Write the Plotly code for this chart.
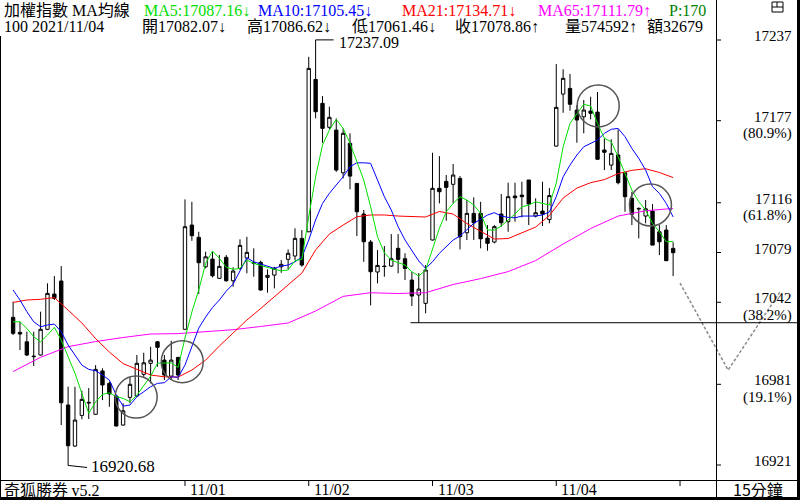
import plotly.graph_objects as go

# ---------------- data (15-minute bars, TAIEX) ----------------
opens = [17030.8, 17019.6, 17012.6, 17002.0, 17002.8, 17021.9, 17048.1, 17057.8, 16965.6, 16935.1,
         16957.9, 16967.6, 16958.7, 16990.9, 16981.7, 16972.3, 16950.7, 16971.3, 16972.3, 16988.4,
         16996.6, 17012.6, 16999.0, 16987.1, 17001.0, 17021.9, 17099.4, 17090.3, 17068.4, 17074.1,
         17059.8, 17075.4, 17058.0, 17067.2, 17074.9, 17070.9, 17071.7, 17060.5, 17062.2, 17068.4,
         17073.9, 17076.4, 17089.5, 17094.4, 17207.7, 17189.9, 17172.1, 17170.0, 17138.3, 17160.2,
         17130.4, 17107.6, 17086.8, 17064.5, 17068.9, 17068.9, 17082.1, 17074.4, 17058.5, 17047.4,
         17041.2, 17088.3, 17126.7, 17131.9, 17129.7, 17134.1, 17093.7, 17108.1, 17108.1, 17089.7,
         17086.8, 17107.6, 17101.9, 17121.0, 17121.7, 17132.9, 17106.1, 17109.8, 17103.5, 17158.1,
         17196.8, 17201.0, 17184.9, 17179.9, 17184.2, 17183.4, 17155.2, 17144.0, 17151.5, 17138.3,
         17119.3, 17111.8, 17106.1, 17109.8, 17094.4, 17095.7, 17082.07]
highs = [17042.4, 17027.5, 17020.1, 17020.1, 17035.0, 17056.1, 17061.5, 17068.9, 16979.2, 16979.2,
         16976.2, 16978.2, 16995.3, 16992.9, 16982.9, 16973.0, 16966.9, 16986.6, 17002.8, 17004.5,
         17008.9, 17013.2, 17002.8, 17013.4, 17001.4, 17118.5, 17116.7, 17094.4, 17079.6, 17079.6,
         17077.1, 17077.1, 17068.0, 17088.8, 17090.7, 17082.1, 17072.9, 17066.5, 17068.4, 17073.4,
         17081.3, 17097.0, 17095.7, 17224.5, 17237.09, 17195.3, 17187.4, 17178.7, 17171.3, 17167.6,
         17130.6, 17110.6, 17088.3, 17080.8, 17083.8, 17092.7, 17092.7, 17078.4, 17064.5, 17063.7,
         17069.7, 17153.2, 17150.7, 17136.6, 17144.8, 17135.8, 17118.0, 17120.0, 17116.7, 17099.4,
         17099.4, 17122.5, 17130.9, 17130.9, 17131.6, 17132.9, 17119.3, 17131.6, 17126.9, 17219.1,
         17215.2, 17211.7, 17188.6, 17192.4, 17194.8, 17198.3, 17163.9, 17163.1, 17170.6, 17138.3,
         17124.2, 17112.5, 17118.0, 17115.0, 17099.4, 17099.4, 17086.62]
lows = [17017.6, 17006.5, 17002.0, 16994.6, 17002.4, 17021.3, 17043.7, 16950.7, 16920.68, 16934.4,
        16955.0, 16955.2, 16958.5, 16969.3, 16964.3, 16949.6, 16950.3, 16966.9, 16971.9, 16986.6,
        16981.7, 16994.1, 16984.2, 16984.2, 16984.2, 17021.3, 17087.7, 17048.1, 17067.2, 17060.5,
        17059.6, 17057.3, 17053.5, 17066.0, 17063.5, 17061.0, 17050.7, 17049.1, 17052.3, 17063.9,
        17066.5, 17073.4, 17068.4, 17094.2, 17178.7, 17160.6, 17170.6, 17139.0, 17134.1, 17126.0,
        17091.2, 17072.1, 17039.7, 17056.1, 17061.0, 17068.4, 17063.5, 17058.5, 17039.2, 17026.8,
        17033.8, 17087.9, 17115.5, 17102.6, 17115.5, 17081.3, 17088.3, 17088.3, 17082.1, 17080.3,
        17085.8, 17098.2, 17094.4, 17101.9, 17105.1, 17099.4, 17105.1, 17098.7, 17100.7, 17157.8,
        17182.9, 17184.4, 17160.6, 17167.6, 17178.0, 17148.1, 17140.3, 17140.3, 17129.7, 17109.3,
        17099.4, 17089.5, 17100.7, 17084.5, 17077.1, 17072.9, 17061.46]
closes = [17018.9, 17018.4, 17002.8, 17001.6, 17021.9, 17048.6, 17044.9, 16967.3, 16935.3, 16954.4,
          16969.8, 16967.2, 16992.1, 16980.5, 16973.8, 16950.0, 16961.3, 16981.0, 16996.6, 16997.0,
          16999.0, 17008.5, 16987.9, 16999.0, 16987.9, 17098.2, 17091.5, 17071.4, 17075.8, 17061.7,
          17068.7, 17058.0, 17065.2, 17084.3, 17079.1, 17071.2, 17051.1, 17062.0, 17067.2, 17070.2,
          17078.4, 17089.5, 17069.7, 17215.9, 17183.7, 17171.3, 17179.5, 17140.3, 17167.6, 17135.8,
          17109.3, 17087.0, 17064.7, 17069.4, 17068.6, 17074.4, 17073.9, 17067.2, 17046.6, 17051.8,
          17066.0, 17126.7, 17124.2, 17127.4, 17136.6, 17090.7, 17108.1, 17101.1, 17089.2, 17085.8,
          17098.2, 17101.1, 17120.5, 17119.7, 17120.5, 17115.0, 17108.6, 17107.6, 17121.3, 17186.9,
          17208.5, 17189.2, 17177.5, 17184.9, 17182.5, 17148.3, 17153.5, 17152.7, 17130.9, 17120.5,
          17107.4, 17111.5, 17111.5, 17084.5, 17087.0, 17072.9, 17078.86]

ma5 = [17027.5, 17027.5, 17022.6, 17016.4, 17012.6, 17017.6, 17023.4, 17013.9, 17001.5, 16989.2,
       16974.3, 16959.4, 16968.0, 16973.5, 16974.7, 16971.8, 16970.6, 16968.0, 16973.0, 16980.5,
       16987.1, 16996.6, 16997.0, 16997.0, 16993.6, 17015.4, 17034.7, 17051.1, 17070.9, 17080.1,
       17074.7, 17068.0, 17066.5, 17067.2, 17073.4, 17070.9, 17069.4, 17067.7, 17066.5, 17065.4,
       17066.0, 17073.0, 17073.9, 17105.6, 17135.3, 17158.9, 17170.0, 17178.0, 17171.3, 17160.2,
       17146.5, 17132.9, 17113.0, 17090.7, 17078.8, 17073.4, 17071.4, 17069.7, 17064.7, 17061.5,
       17066.0, 17080.8, 17097.0, 17109.3, 17115.5, 17120.5, 17118.0, 17114.3, 17108.1, 17095.7,
       17095.7, 17098.7, 17103.1, 17107.6, 17113.0, 17114.3, 17116.7, 17115.5, 17114.3, 17130.6,
       17157.6, 17175.0, 17182.5, 17189.2, 17187.9, 17175.0, 17163.9, 17161.4, 17150.2, 17137.9,
       17125.4, 17116.7, 17110.6, 17100.7, 17094.4, 17087.0, 17087.16]
ma10 = [17051.1, 17043.7, 17035.0, 17027.5, 17023.8, 17025.1, 17025.8, 17020.1, 17010.2, 17002.8,
        16995.3, 16992.1, 16991.1, 16987.9, 16984.2, 16973.0, 16964.8, 16965.6, 16971.8, 16975.5,
        16979.2, 16981.7, 16982.2, 16986.6, 16986.2, 16995.3, 17008.7, 17022.8, 17031.0, 17038.1,
        17043.7, 17050.3, 17055.5, 17064.8, 17075.1, 17072.1, 17070.4, 17068.4, 17067.2, 17068.9,
        17069.7, 17072.1, 17075.6, 17088.3, 17103.2, 17115.5, 17123.0, 17129.2, 17135.3, 17142.8,
        17145.7, 17145.7, 17145.3, 17132.9, 17120.5, 17110.6, 17098.2, 17088.3, 17080.9, 17072.7,
        17067.2, 17072.1, 17078.4, 17083.3, 17088.3, 17091.2, 17095.7, 17100.7, 17103.7, 17106.9,
        17108.6, 17106.1, 17105.1, 17104.8, 17106.1, 17106.1, 17106.1, 17106.9, 17109.1, 17120.5,
        17135.3, 17144.0, 17151.5, 17157.6, 17160.2, 17162.6, 17167.6, 17170.6, 17171.3, 17165.1,
        17156.4, 17149.0, 17140.3, 17127.9, 17123.0, 17115.5, 17105.45]
ma21_bars = list(range(0, 97, 2))
ma21 = [17041.9, 17043.7, 17044.2, 17045.5, 17036.2, 17026.6, 17015.0, 17005.0, 16996.4, 16992.4,
        16987.9, 16986.6, 16986.4, 16991.6, 16999.0, 17009.5, 17019.1, 17028.8, 17037.3, 17046.3,
        17054.8, 17063.7, 17080.9, 17092.7, 17099.4, 17105.6, 17106.9, 17106.9, 17106.1, 17105.7,
        17105.4, 17109.5, 17107.6, 17100.5, 17094.6, 17089.0, 17089.4, 17093.5, 17097.9, 17106.5,
        17119.5, 17126.9, 17130.9, 17133.2, 17137.7, 17140.1, 17141.3, 17138.5, 17134.71]
ma65_bars = list(range(0, 97, 4))
ma65 = [16990.5, 17001.1, 17009.0, 17012.8, 17015.8, 17018.4, 17018.7, 17020.1, 17021.6, 17024.0,
        17026.6, 17035.5, 17046.4, 17049.1, 17048.5, 17049.1, 17055.2, 17059.6, 17064.8, 17073.0,
        17085.3, 17096.8, 17106.1, 17110.0, 17111.79]

date_tick_bars = [25, 43, 61, 79, 97]
date_tick_labels = ["11/01", "11/02", "11/03", "11/04", ""]

axis_levels = [17237, 17177, 17116, 17079, 17042, 16981, 16921]
axis_pct = ["", "(80.9%)", "(61.8%)", "", "(38.2%)", "(19.1%)", ""]

# forecast (dashed) path and support line
proj_bars = [97, 104, 111.5]
proj_vals = [17056.3, 16991.6, 17049.4]
support_start_bar = 57.8
support_val = 17026.8

# highlight circles (bar, price)
circle_bars = [17.9, 24.6, 85.1, 92.7]
circle_vals = [16971.5, 16997.8, 17188.0, 17114.3]

# ---------------- figure ----------------
W, H = 800, 500
X_MIN, X_MAX = -1.9055, 114.451
Y_MIN, Y_MAX = 16894.99, 17266.74
SERIF = "Liberation Serif, Noto Sans CJK TC"
CJK = "Noto Sans CJK TC, Liberation Serif"


def pxx(p):
    return p / W


def pxy(p):
    return 1 - p / H


bars = list(range(len(opens)))
fig = go.Figure()
fig.add_trace(go.Candlestick(
    x=bars, open=opens, high=highs, low=lows, close=closes,
    increasing=dict(line=dict(color="black", width=1), fillcolor="white"),
    decreasing=dict(line=dict(color="black", width=1), fillcolor="black"),
    whiskerwidth=0, showlegend=False))

for xs, ys, col in [(ma65_bars, ma65, "#ff00ff"), (ma21_bars, ma21, "#ff0000"),
                    (bars, ma10, "#0000ff"), (bars, ma5, "#00e000")]:
    fig.add_trace(go.Scatter(x=xs, y=ys, mode="lines", line=dict(color=col, width=1),
                             showlegend=False, hoverinfo="skip"))

fig.add_trace(go.Scatter(x=proj_bars, y=proj_vals, mode="lines",
                         line=dict(color="#8a8a8a", width=1.5, dash="3px,2px"),
                         showlegend=False, hoverinfo="skip"))

shapes = []
shapes.append(dict(type="line", xref="x", yref="y", x0=support_start_bar, x1=X_MAX,
                   y0=support_val, y1=support_val, line=dict(color="black", width=1)))
for cb, cv in zip(circle_bars, circle_vals):
    shapes.append(dict(type="circle", xref="x", yref="y", xsizemode="pixel", ysizemode="pixel",
                       xanchor=cb, yanchor=cv, x0=-21, x1=21, y0=-21, y1=21,
                       line=dict(color="#555555", width=1.5)))
hi_i = highs.index(max(highs))
lo_i = lows.index(min(lows))
shapes.append(dict(type="line", xref="x", yref="y", xsizemode="pixel", xanchor=hi_i,
                   x0=0, x1=18, y0=highs[hi_i], y1=highs[hi_i], line=dict(color="black", width=1)))
shapes.append(dict(type="line", xref="x", yref="y", xsizemode="pixel", xanchor=lo_i,
                   x0=0, x1=19, y0=lows[lo_i], y1=lows[lo_i] - 1.5, line=dict(color="black", width=1)))
shapes += [
    dict(type="line", xref="paper", yref="paper", x0=pxx(716.5), x1=pxx(716.5), y0=0, y1=1,
         line=dict(color="black", width=1)),
    dict(type="line", xref="paper", yref="paper", x0=0, x1=1, y0=pxy(480.5), y1=pxy(480.5),
         line=dict(color="black", width=1)),
    dict(type="line", xref="paper", yref="paper", x0=pxx(0.5), x1=pxx(0.5), y0=0, y1=pxy(36),
         line=dict(color="black", width=1)),
    dict(type="rect", xref="paper", yref="paper", x0=pxx(797), x1=1, y0=0, y1=1,
         fillcolor="black", line=dict(width=0)),
    dict(type="rect", xref="paper", yref="paper", x0=0, x1=1, y0=0, y1=pxy(497),
         fillcolor="black", line=dict(width=0)),
    dict(type="rect", xref="paper", yref="paper", x0=pxx(772), x1=pxx(783), y0=pxy(12), y1=pxy(2),
         line=dict(color="black", width=1)),
    dict(type="line", xref="paper", yref="paper", x0=pxx(772), x1=pxx(783), y0=pxy(7), y1=pxy(7),
         line=dict(color="black", width=1)),
    dict(type="line", xref="paper", yref="paper", x0=pxx(777), x1=pxx(777), y0=pxy(7), y1=pxy(2),
         line=dict(color="black", width=1)),
]
for lv in axis_levels:
    shapes.append(dict(type="line", xref="paper", yref="y", x0=pxx(716), x1=pxx(721),
                       y0=lv, y1=lv, line=dict(color="black", width=1)))
for b in date_tick_bars:
    shapes.append(dict(type="line", xref="x", yref="paper", x0=b, x1=b, y0=pxy(480), y1=pxy(486),
                       line=dict(color="black", width=1)))

ann = []


def text(x, y, s, color="black", size=16, family=SERIF, xanchor="left", **kw):
    d = dict(x=x, y=y, text=s, showarrow=False, xanchor=xanchor, yanchor="middle",
             font=dict(family=family, size=size, color=color))
    d.update(kw)
    if "xref" not in d:
        d["xref"] = "paper"
    if "yref" not in d:
        d["yref"] = "paper"
    ann.append(d)


row1 = [("加權指數 MA均線", 2, "black"),
        (f"MA5:{ma5[-1]:.2f}↓", 142, "#00dd00"),
        (f"MA10:{ma10[-1]:.2f}↓", 256, "#0000ff"),
        (f"MA21:{ma21[-1]:.2f}↓", 400, "#ff0000"),
        (f"MA65:{ma65[-1]:.2f}↑", 536, "#ff00ff"),
        ("P:170", 667, "#008000")]
for s, xp, c in row1:
    text(pxx(xp), pxy(10), s, color=c)
row2 = [("100 2021/11/04", 2),
        (f"開{opens[-1]:.2f}↓", 140),
        (f"高{highs[-1]:.2f}↓", 245),
        (f"低{lows[-1]:.2f}↓", 350),
        (f"收{closes[-1]:.2f}↑", 453),
        ("量574592↑", 563),
        ("額32679", 645)]
for s, xp in row2:
    text(pxx(xp), pxy(26.5), s)

text(hi_i, highs[hi_i], f"{highs[hi_i]:.2f}", size=16, xref="x", yref="y", xshift=21, yshift=-3)
text(lo_i, lows[lo_i], f"{lows[lo_i]:.2f}", size=17, xref="x", yref="y", xshift=21, yshift=-1)

for lv, pc in zip(axis_levels, axis_pct):
    text(pxx(794), lv, str(lv), size=15, xanchor="right", yref="y", yshift=4)
    if pc:
        text(pxx(794), lv, pc, size=15, xanchor="right", yref="y", yshift=-13)

text(pxx(2), pxy(489), "奇狐勝券 <span style='font-family:Liberation Serif'>v5.2</span>",
     size=16, family=CJK)
for b, lab in zip(date_tick_bars, date_tick_labels):
    if lab:
        text(b, pxy(489), lab, size=16, xref="x", xshift=3)
text(pxx(758), pxy(489), "15分鐘", size=16, family=CJK, xanchor="center")

fig.update_layout(
    width=W, height=H, margin=dict(l=0, r=0, t=0, b=0),
    paper_bgcolor="white", plot_bgcolor="white", showlegend=False,
    xaxis=dict(range=[X_MIN, X_MAX], visible=False, rangeslider=dict(visible=False), fixedrange=True),
    yaxis=dict(range=[Y_MIN, Y_MAX], visible=False, fixedrange=True),
    shapes=shapes, annotations=ann, hovermode=False,
)
fig.write_html("out.html", config={"displayModeBar": False},
               post_script="document.body.style.margin='0';document.body.style.padding='0';")
